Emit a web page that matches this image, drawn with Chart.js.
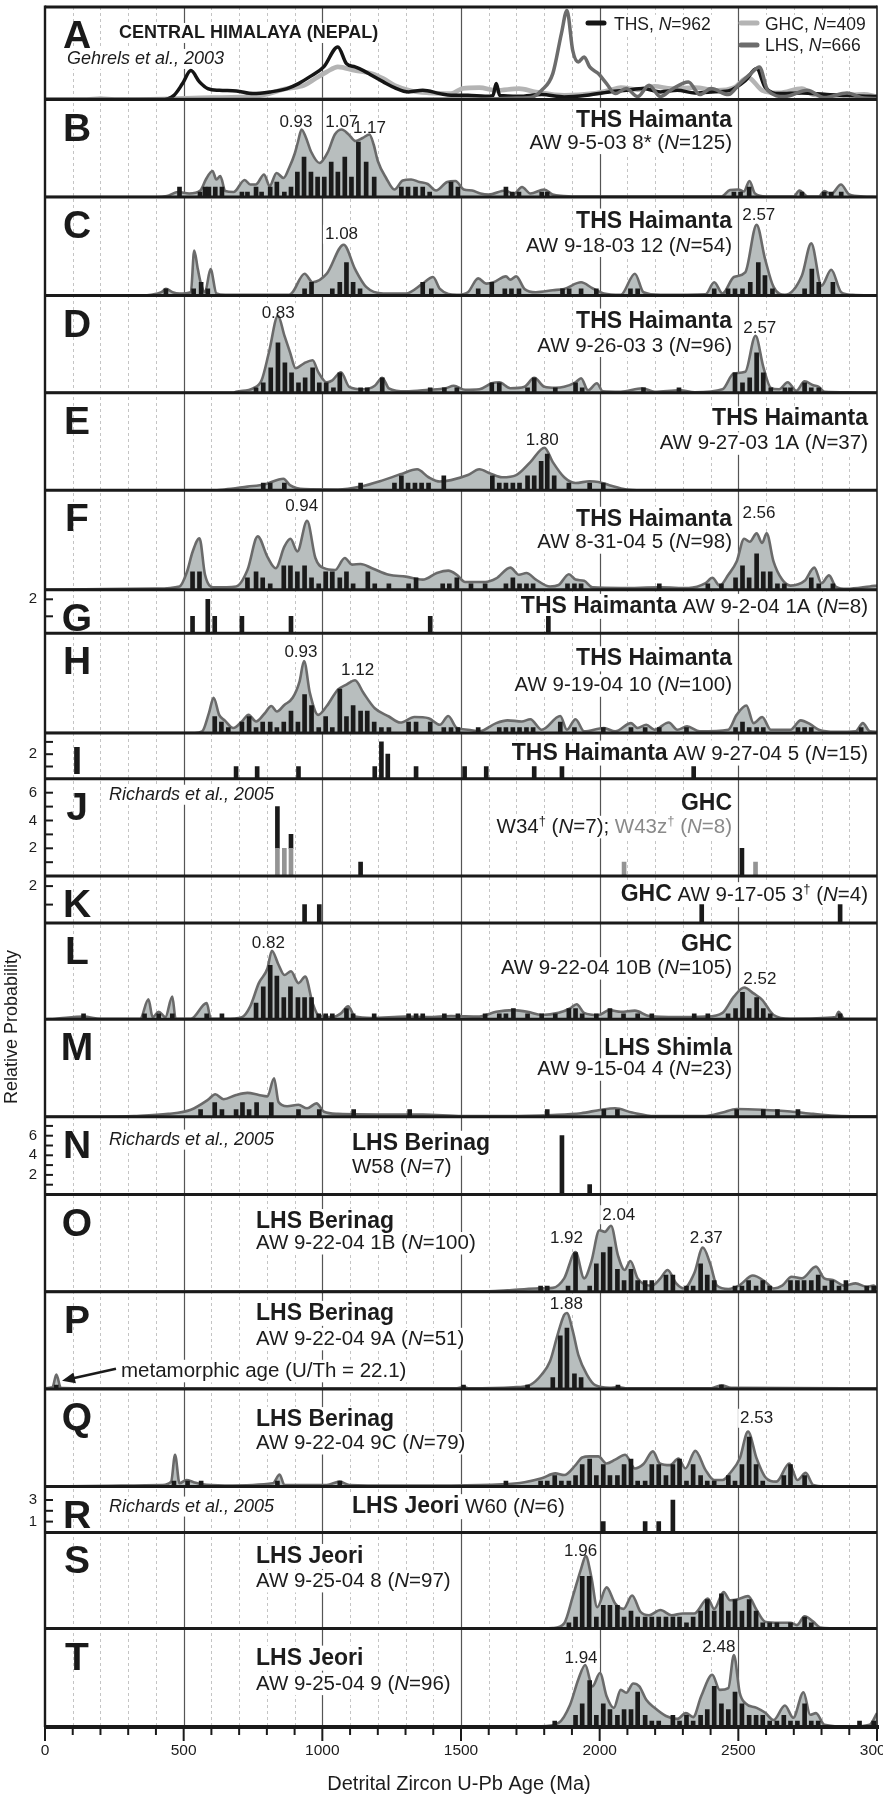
<!DOCTYPE html>
<html>
<head>
<meta charset="utf-8">
<title>Detrital zircon U-Pb age spectra</title>
<script src="https://cdn.jsdelivr.net/npm/chart.js@4.4.1/dist/chart.umd.min.js"></script>
<style>
  html, body { margin: 0; padding: 0; background: #fff; }
  canvas { display: block; }
</style>
</head>
<body>
<canvas id="spectra" width="883" height="1796"></canvas>
<script>
// ------------------------------------------------------------------
// Values: ages in Ma; curves are relative probability (panel units),
// bars are grain counts per 20 Myr bin.
// ------------------------------------------------------------------
const ageTicks = [0, 500, 1000, 1500, 2000, 2500, 3000];

// A: compiled Central Himalaya (Nepal) spectra
const curveTHS = [[0,0],[420,0],[465,4.3],[496,16],[526,29],[557,17.7],[587,11],[628,9.3],[690,8.7],[750,6],[812,7.7],[873,11],[914,16],[954,22.7],[1005,32.7],[1056,52.7],[1087,36],[1118,32.7],[1148,29],[1179,24],[1220,17.7],[1260,12],[1311,7.7],[1362,9.3],[1424,6],[1464,4.3],[1525,4.3],[1587,3.3],[1615,4],[1627,16],[1640,4],[1709,3.3],[1791,5],[1872,2.7],[1954,4.3],[2035,7.7],[2096,9.3],[2158,11],[2219,7.7],[2280,9.3],[2343,6.7],[2402,7.7],[2464,8.7],[2525,19],[2566,31],[2596,12.7],[2647,6],[2729,6.7],[2810,5.3],[2892,4],[2974,3.3],[3000,3]];
const curveGHC = [[0,0],[150,0],[200,1],[250,0],[420,0.5],[600,2],[750,3],[873,11],[934,14.3],[975,21],[1016,27.7],[1056,32.7],[1118,29],[1179,26],[1220,21],[1260,14.3],[1322,8.7],[1383,6.7],[1464,6],[1505,11],[1566,12],[1627,9.3],[1709,11],[1770,7.7],[1872,4.3],[1974,6],[2035,9.3],[2076,12],[2137,10],[2198,13.3],[2259,11],[2343,12],[2423,9.3],[2484,12],[2535,22],[2586,9.3],[2647,6.7],[2729,11],[2770,5],[2851,4],[2953,5.3],[3000,3]];
const curveLHS = [[0,0],[1600,0.5],[1700,1.5],[1750,2],[1791,9.3],[1831,26],[1862,66],[1882,89],[1903,49],[1923,37.7],[1944,42.7],[1964,32.7],[1995,26],[2025,16],[2056,6],[2096,11],[2137,3],[2178,14.3],[2219,3],[2259,10],[2320,17.7],[2361,5],[2402,11],[2464,5],[2505,16],[2545,26],[2576,32.7],[2606,9.3],[2668,3],[2749,9.3],[2810,2],[2892,6.7],[2953,1.5],[3000,1]];

const curveB = [[0,0],[400,0],[440,0.2],[480,1],[520,0.7],[560,1.3],[580,3.5],[604,5.2],[618,3.5],[632,4.2],[650,1.2],[680,1],[720,3.4],[740,2.5],[760,2.5],[790,4.5],[810,2.2],[835,4.8],[860,3.8],[880,5.8],[900,8.6],[912,11],[925,13.5],[940,12],[960,9],[990,6.8],[1020,9],[1045,12.5],[1070,13.5],[1095,12.5],[1120,11.2],[1145,11.8],[1170,12.5],[1185,10.5],[1200,7.2],[1230,3.8],[1260,1.5],[1290,3.3],[1320,3.5],[1350,3],[1380,2.6],[1410,1.3],[1450,3],[1480,3.2],[1510,1.5],[1540,1.3],[1570,0.7],[1600,0.5],[1660,1.3],[1690,0.6],[1720,2],[1750,0.7],[1800,1.5],[1830,0.5],[1870,0.2],[1900,0.1],[2440,0.1],[2470,1.4],[2500,1.5],[2520,1.1],[2540,3.2],[2560,0.7],[2600,0.1],[2700,0.1],[2720,1.3],[2750,0.1],[2790,0.1],[2810,1.2],[2835,0.6],[2870,2.5],[2900,0.5],[2950,0.1],[3000,0]];
const barsB = [[485,2],[559,1],[577,2],[591,2],[614,2],[638,2],[710,1],[730,1],[761,2],[781,1],[812,2],[836,3],[863,1],[887,2],[910,5],[934,8],[959,5],[983,4],[1007,4],[1032,7],[1056,5],[1081,8],[1105,4],[1130,11],[1158,7],[1187,4],[1285,2],[1309,2],[1336,2],[1362,2],[1387,1],[1464,3],[1489,2],[1662,2],[1685,1],[1709,1],[1791,1],[1811,1],[2484,1],[2508,1],[2539,2],[2729,1],[2810,1],[2835,1],[2871,1]];
const peaksB = ['0.93', '1.07', '1.17'];

const curveC = [[0,0],[350,0],[383,0.1],[420,0.5],[436,1],[460,0.5],[485,0.3],[526,0.5],[538,6.8],[551,4],[561,2],[577,0.5],[597,4],[618,0.3],[650,0.1],[880,0.1],[893,0.5],[936,3.3],[965,2],[1016,3.3],[1077,7.7],[1118,4],[1158,1.3],[1220,0.3],[1301,0.3],[1362,1.8],[1399,2.8],[1424,1],[1485,0.1],[1525,0.5],[1562,2.6],[1591,1.8],[1617,2],[1662,2.9],[1678,2.4],[1699,2.9],[1729,1],[1770,0.5],[1831,0.8],[1872,1],[1933,2],[1974,1.1],[2015,0.3],[2076,0.1],[2127,3.3],[2158,0.5],[2219,0.1],[2382,0.2],[2413,2],[2443,0.3],[2484,2.8],[2525,3.5],[2566,10.7],[2596,5.6],[2627,1.3],[2668,0.1],[2729,3],[2763,7.9],[2800,1.5],[2835,3.9],[2871,0.5],[2912,0.1],[3000,0]];
const barsC = [[436,1],[536,1],[563,2],[587,1],[936,1],[961,2],[1036,1],[1063,2],[1087,5],[1111,2],[1136,1],[1362,2],[1393,1],[1562,1],[1611,2],[1658,1],[1682,1],[1709,1],[1866,1],[1890,1],[1933,1],[1988,1],[2111,1],[2137,1],[2413,1],[2463,1],[2488,1],[2515,1],[2543,2],[2572,5],[2596,3],[2623,1],[2739,1],[2765,4],[2790,2],[2841,2]];
const peaksC = ['1.08', '2.57'];

const curveD = [[0,0],[680,0],[689,0.2],[750,0.9],[781,2.5],[808,8.2],[840,15.4],[863,11.5],[883,8.2],[904,4.9],[934,5.9],[965,6.5],[985,4.2],[1016,2.1],[1036,2.5],[1067,4.1],[1097,1.2],[1148,0.7],[1189,1.4],[1216,3],[1240,0.9],[1301,0.3],[1383,0.6],[1444,0.9],[1474,1.4],[1515,0.6],[1566,0.7],[1611,1.9],[1638,2.1],[1678,0.9],[1729,1.2],[1764,3],[1801,1.2],[1841,1],[1872,1.2],[1913,2.1],[1933,2.9],[1958,0.5],[1990,1.9],[2011,0.3],[2076,0.2],[2154,0.9],[2198,0.2],[2290,0.5],[2343,0.1],[2443,0.7],[2484,3.9],[2525,4.2],[2562,11.4],[2590,5.2],[2617,1],[2647,0.7],[2678,2.1],[2709,0.4],[2739,2.3],[2770,1.5],[2790,1.2],[2811,0.2],[2900,0.1],[3000,0]];
const barsD = [[761,1],[787,2],[814,5],[840,10],[865,6],[889,4],[914,2],[938,3],[965,5],[989,2],[1014,2],[1040,1],[1063,4],[1138,1],[1162,1],[1216,3],[1389,1],[1440,1],[1485,1],[1611,2],[1638,2],[1740,1],[1764,3],[1840,1],[1913,2],[1937,1],[2158,1],[2286,1],[2488,4],[2515,2],[2541,3],[2566,8],[2590,4],[2617,1],[2668,1],[2688,1],[2739,2],[2763,1],[2790,1]];
const peaksD = ['0.83', '2.57'];

const curveE = [[0,0],[620,0],[648,0.1],[730,0.5],[791,0.8],[860,1.6],[883,0.7],[934,0.15],[1056,0.1],[1138,0.5],[1220,1.4],[1281,2.2],[1342,2.9],[1383,1.8],[1424,1.2],[1464,1.4],[1525,2.1],[1566,2.9],[1607,2.3],[1648,1.8],[1699,2.1],[1750,3.9],[1801,5.9],[1831,3.9],[1872,1.8],[1913,1],[1964,1.25],[1995,1.15],[2035,0.7],[2096,0.1],[2150,0],[3000,0]];
const barsE = [[787,1],[812,1],[863,1],[1138,1],[1260,1],[1285,2],[1309,1],[1334,1],[1358,1],[1383,1],[1438,2],[1613,2],[1638,1],[1662,1],[1687,1],[1711,1],[1740,2],[1764,2],[1789,4],[1811,5],[1836,2],[1889,1],[1964,1],[2013,1]];
const peaksE = ['1.80'];

const curveF = [[0,0],[400,0.2],[485,0.55],[512,3],[532,6.3],[557,8.6],[577,2.5],[608,0.4],[689,0.55],[730,3.3],[767,8.9],[802,5.5],[832,3.6],[863,7.2],[885,8.5],[910,6.4],[945,11.5],[975,5.3],[1006,3.6],[1046,3.3],[1081,5.3],[1107,4.2],[1138,4.3],[1179,3.6],[1240,2.5],[1301,2.2],[1362,1.7],[1413,2.8],[1454,3.2],[1485,2.5],[1515,1.3],[1587,1.3],[1627,1.9],[1678,3.7],[1709,2.5],[1736,2.8],[1770,1.7],[1821,0.55],[1852,0.8],[1889,2.6],[1913,1.7],[1944,1.5],[1974,0.4],[2076,0.3],[2219,0.4],[2321,0.3],[2382,1.1],[2406,2],[2433,0.7],[2464,2.5],[2494,4.7],[2521,8.5],[2541,8],[2566,9.4],[2586,7.8],[2602,9.4],[2627,4.7],[2658,1.7],[2688,0.7],[2739,1.5],[2774,3.7],[2800,1.1],[2827,2.4],[2851,0.55],[2892,0.15],[2974,0.55],[3000,0.7]];
const barsF = [[532,3],[557,3],[730,2],[761,3],[785,2],[812,1],[861,4],[885,4],[910,3],[936,4],[961,2],[987,1],[1012,3],[1036,3],[1063,2],[1087,3],[1111,1],[1164,3],[1189,1],[1240,1],[1311,1],[1338,2],[1434,1],[1458,1],[1485,2],[1536,1],[1587,1],[1662,1],[1687,2],[1711,1],[1736,1],[1760,1],[1884,1],[1909,1],[1933,1],[2215,1],[2390,1],[2439,1],[2490,2],[2515,4],[2539,2],[2566,6],[2590,3],[2615,3],[2641,1],[2666,1],[2763,2],[2790,1],[2841,1]];
const peaksF = ['0.94', '2.56'];

const barsG = [[532,1],[587,2],[612,1],[710,1],[887,1],[1389,1],[1815,1]];
const tickLabelsG = [2];

const curveH = [[0,0],[540,0],[567,0.3],[591,3.6],[608,6.4],[628,3.3],[648,2.3],[679,0.9],[710,2.1],[734,3.3],[761,2.1],[791,3.5],[816,4.9],[836,3.9],[863,5.1],[893,6.4],[918,9.4],[934,13.1],[955,7.3],[985,3.3],[1016,4.9],[1056,7.9],[1087,8.8],[1118,9.6],[1148,7.3],[1189,4.5],[1240,3],[1281,1.9],[1332,2.9],[1383,2.7],[1424,1.5],[1454,3.1],[1485,0.9],[1525,0.6],[1566,0.3],[1627,1.8],[1668,2.3],[1719,2.1],[1750,2.5],[1791,0.6],[1858,3.1],[1882,0.6],[1913,2.5],[1944,0.3],[2015,0.9],[2056,0.3],[2113,1.8],[2137,0.9],[2168,1.5],[2198,0.6],[2249,1.9],[2280,0.6],[2315,1.2],[2361,0.3],[2464,0.6],[2494,3.3],[2529,5],[2555,1.8],[2586,2.9],[2617,0.6],[2688,0.6],[2725,2.3],[2759,1.6],[2790,0.6],[2851,0.2],[2923,0.3],[2949,1.8],[2974,0.3],[3000,0.2]];
const barsH = [[612,3],[636,2],[661,1],[710,2],[736,3],[761,1],[785,2],[812,2],[836,1],[861,2],[887,4],[912,2],[936,7],[961,5],[987,1],[1012,3],[1036,1],[1063,8],[1087,3],[1111,5],[1138,4],[1162,4],[1187,2],[1213,1],[1240,1],[1311,2],[1338,2],[1389,2],[1438,1],[1464,1],[1489,1],[1562,1],[1638,1],[1662,1],[1687,1],[1711,1],[1736,1],[1760,1],[1858,2],[1909,1],[2013,1],[2113,1],[2164,1],[2215,1],[2313,1],[2490,1],[2515,2],[2539,1],[2566,1],[2590,1],[2715,1],[2739,1],[2763,1],[2943,1]];
const peaksH = ['0.93', '1.12'];

const barsI = [[689,1],[765,1],[914,1],[1189,1],[1213,3],[1236,2],[1338,1],[1513,1],[1591,1],[1764,1],[1864,1],[2339,1]];
const tickLabelsI = [2];

const barsJ_W43z = [[838,2],[863,2],[887,2],[2088,1],[2562,1]];
const barsJ_W34 = [[838,3],[887,1],[1138,1],[2513,2]];
const tickLabelsJ = [2, 4, 6];

const barsK = [[936,1],[989,1],[2368,1],[2867,1]];
const tickLabelsK = [2];

const curveL = [[0,0],[37,0.1],[139,0.5],[200,0.1],[343,0.1],[373,3.7],[388,0.4],[410,1.4],[434,0.4],[459,4.2],[471,0.1],[526,0.1],[583,3],[598,0.1],[649,0.1],[710,0.4],[740,2.4],[771,6.7],[802,9.4],[818,12.7],[842,10.1],[863,8.2],[887,8.9],[914,6.7],[938,7.9],[965,3],[985,0.8],[1036,0.4],[1067,1.1],[1093,2.4],[1118,0.5],[1179,0.25],[1301,0.5],[1383,0.4],[1464,0.6],[1566,0.5],[1627,1.4],[1689,1.7],[1740,1.4],[1791,0.8],[1852,1.2],[1893,2],[1917,2.8],[1944,1.2],[1995,0.8],[2035,1.7],[2076,1.4],[2127,1.6],[2178,0.6],[2280,0.4],[2382,0.5],[2443,1.2],[2484,4.2],[2521,5.9],[2555,4.8],[2586,3.6],[2627,0.8],[2688,0.1],[2851,0.4],[2861,1.4],[2882,0.1],[3000,0.1]];
const barsL = [[139,1],[359,1],[410,1],[459,1],[583,1],[638,1],[761,3],[787,6],[812,10],[836,8],[861,4],[885,6],[912,4],[936,4],[961,4],[987,1],[1012,1],[1036,1],[1087,2],[1111,1],[1187,1],[1311,1],[1338,1],[1362,1],[1440,1],[1489,1],[1587,1],[1638,1],[1662,1],[1689,2],[1740,1],[1791,1],[1840,1],[1889,2],[1913,2],[1937,1],[1988,1],[2037,2],[2086,1],[2137,1],[2188,1],[2341,1],[2390,1],[2463,1],[2490,2],[2515,5],[2539,2],[2566,4],[2590,2],[2615,1],[2867,1]];
const peaksL = ['0.82', '2.52'];

const curveM = [[0,0],[200,0],[322,0.1],[445,0.4],[526,1],[587,2.4],[614,3.2],[644,2.5],[689,3.1],[730,3.4],[771,3.1],[802,2.9],[826,5.5],[842,2.1],[873,1.5],[914,1.7],[945,1.2],[979,1.9],[1006,0.7],[1056,0.4],[1260,0.3],[1362,0.3],[1505,0.1],[1668,0.1],[1831,0.25],[1933,0.5],[2005,1],[2056,1.2],[2117,0.6],[2198,0.1],[2382,0.1],[2443,0.6],[2494,1.1],[2586,1],[2688,0.75],[2770,0.4],[2871,0.1],[3000,0.05]];
const barsM = [[561,1],[612,2],[638,1],[689,1],[712,2],[736,1],[763,2],[816,2],[914,1],[989,1],[1113,1],[1315,1],[1811,1],[2015,1],[2064,1],[2494,1],[2590,1],[2641,1],[2715,1]];

const barsN = [[1864,6],[1964,1]];
const tickLabelsN = [2, 4, 6];

const curveO = [[0,0.05],[1600,0.1],[1668,0.25],[1770,0.6],[1831,0.7],[1872,2.4],[1913,7.1],[1944,2.4],[1970,5.4],[1999,11],[2019,10.7],[2041,11.8],[2066,6.5],[2090,3.9],[2111,5.5],[2137,2.4],[2188,1.1],[2219,2.4],[2245,3.9],[2276,1.5],[2304,0.6],[2341,3.3],[2372,7.9],[2398,5.1],[2423,1.1],[2464,0.5],[2505,1.2],[2552,2.9],[2597,1.8],[2627,0.6],[2658,1.1],[2692,2.7],[2729,2.4],[2780,4.5],[2810,2.4],[2841,2.1],[2882,1.1],[2923,1.5],[2963,0.9],[2988,1.1],[3000,0.6]];
const barsO = [[1787,1],[1811,1],[1886,1],[1913,7],[1964,1],[1988,5],[2013,7],[2037,8],[2064,4],[2088,2],[2113,4],[2137,2],[2164,2],[2188,2],[2239,3],[2264,3],[2313,1],[2337,1],[2364,5],[2388,3],[2413,2],[2488,1],[2513,1],[2537,2],[2564,1],[2588,2],[2613,1],[2688,2],[2713,2],[2737,2],[2763,2],[2788,3],[2812,1],[2837,2],[2863,1],[2888,2],[2963,1],[2988,1]];
const peaksO = ['1.92', '2.04', '2.37'];

const curveP = [[0,0.2],[27,0.45],[41,3.8],[57,0.3],[100,0.2],[1480,0.2],[1509,0.5],[1530,0.2],[1689,0.45],[1750,1.1],[1791,3.8],[1821,7.3],[1848,14.2],[1872,19.5],[1882,20],[1903,15.3],[1923,9],[1954,3.8],[1984,1],[2035,0.3],[2066,0.5],[2100,0.2],[2402,0.2],[2439,1],[2474,0.3],[3000,0.2]];
const barsP = [[41,1],[1509,1],[1740,1],[1831,3],[1858,14],[1882,16],[1909,4],[1933,3],[2066,1],[2439,1]];
const peaksP = ['1.88'];

const curveQ = [[0,0.05],[424,0.3],[455,0.9],[469,5.8],[485,0.6],[510,1.2],[536,0.8],[567,0.4],[649,0.2],[822,0.6],[846,2.2],[863,0.3],[1016,0.3],[1063,0.9],[1097,0.3],[1260,0.2],[1464,0.2],[1648,0.4],[1729,0.8],[1791,1.5],[1840,2.4],[1872,2.1],[1913,3.9],[1937,5.3],[1964,5.5],[1995,5.5],[2025,4.2],[2056,4.9],[2092,5.8],[2127,3.3],[2158,4.1],[2192,6.4],[2217,4.2],[2254,3.9],[2284,5.1],[2309,3.3],[2345,6.5],[2382,3],[2413,1.2],[2443,1.2],[2474,2.7],[2505,5.1],[2535,10],[2566,5.1],[2596,1.8],[2637,0.9],[2684,4.2],[2713,1.2],[2743,2.5],[2770,0.3],[2810,0.05],[3000,0.05]];
const barsQ = [[465,1],[514,1],[563,1],[838,1],[1063,1],[1662,1],[1787,1],[1811,1],[1838,2],[1862,1],[1889,1],[1913,2],[1937,4],[1964,5],[1988,2],[2013,4],[2037,2],[2064,2],[2088,4],[2113,5],[2137,1],[2164,1],[2188,4],[2213,4],[2239,2],[2264,4],[2288,5],[2313,1],[2337,4],[2364,2],[2388,1],[2413,1],[2464,2],[2488,1],[2513,4],[2539,9],[2564,4],[2588,1],[2664,2],[2688,4],[2739,2]];
const peaksQ = ['2.53'];

const barsR = [[2013,1],[2164,1],[2213,1],[2264,3]];
const tickLabelsR = [1, 3];

const curveS = [[0,0.05],[1800,0.05],[1831,0.1],[1872,0.9],[1903,5.5],[1933,10.3],[1950,12.5],[1970,8.9],[1991,3.7],[2025,7.1],[2056,4.3],[2086,3.4],[2117,5.7],[2147,2.9],[2178,2.3],[2219,3.2],[2259,2.3],[2300,2.6],[2341,2.6],[2390,5.2],[2413,3.4],[2447,6.3],[2470,4.9],[2494,5],[2535,5.6],[2566,3.2],[2596,1.2],[2647,1],[2688,1],[2711,0.6],[2739,2.1],[2770,1.2],[2794,0.2],[2830,0.05],[3000,0.05]];
const barsS = [[1889,1],[1913,2],[1937,9],[1962,9],[1988,2],[2013,4],[2037,4],[2064,4],[2088,2],[2113,3],[2137,2],[2164,2],[2188,2],[2213,2],[2239,2],[2264,2],[2288,2],[2313,1],[2337,2],[2364,3],[2388,5],[2413,3],[2439,6],[2464,3],[2488,5],[2513,3],[2539,5],[2564,3],[2588,1],[2613,1],[2639,1],[2688,1],[2739,2],[2763,1]];
const peaksS = ['1.96'];

const curveT = [[0,0.05],[1790,0.1],[1852,0.7],[1893,3.8],[1923,8.2],[1948,10.7],[1974,7],[2001,9.3],[2025,5.3],[2051,3.3],[2076,6.4],[2096,5.9],[2121,7.5],[2143,7],[2168,4.7],[2198,3.3],[2239,1.9],[2280,1.4],[2311,2.4],[2337,1.7],[2366,5.3],[2406,9],[2433,6.4],[2464,6.7],[2484,12.4],[2505,5.9],[2525,4.1],[2566,3.3],[2596,2.5],[2627,1.2],[2668,3.7],[2698,1.6],[2735,6],[2759,2.1],[2780,2.4],[2810,0.4],[2900,0.05],[2974,0.4],[3000,2.4]];
const barsT = [[1838,1],[1913,2],[1937,4],[1964,8],[1988,2],[2013,4],[2037,3],[2064,2],[2088,3],[2113,3],[2137,6],[2164,2],[2188,1],[2213,1],[2264,2],[2288,1],[2313,2],[2337,1],[2364,2],[2388,3],[2413,7],[2439,4],[2464,3],[2488,6],[2513,4],[2539,2],[2564,2],[2588,2],[2613,1],[2639,1],[2664,2],[2688,1],[2713,1],[2739,4],[2763,1],[2788,1],[2937,1],[2988,1]];
const peaksT = ['1.94', '2.48'];

// ------------------------------------------------------------------
// Styling and layout
// ------------------------------------------------------------------
const FF = '"Liberation Sans", Arial, Helvetica, sans-serif';
const INK = '#1c1c1c';
const GREY_TXT = '#8a8a8a';
const FILL = '#b8bebe';
const OUTLINE = '#6a6a6a';
const BAR = '#1a1a1a';
const BAR_GREY = '#949494';

const STY = {
  b:    { font: 'bold 23px ' + FF, size: 23 },
  r:    { font: '20.5px ' + FF, size: 20.5 },
  i:    { font: 'italic 20.5px ' + FF, size: 20.5 },
  sup:  { font: '13px ' + FF, size: 13, rise: 8 },
  rg:   { font: '20.5px ' + FF, size: 20.5, color: GREY_TXT },
  ig:   { font: 'italic 20.5px ' + FF, size: 20.5, color: GREY_TXT },
  supg: { font: '13px ' + FF, size: 13, rise: 8, color: GREY_TXT },
  cite: { font: 'italic 18px ' + FF, size: 18 },
  head: { font: 'bold 18px ' + FF, size: 18 },
  leg:  { font: '17.5px ' + FF, size: 17.5 },
  legi: { font: 'italic 17.5px ' + FF, size: 17.5 },
  pk:   { font: '17px ' + FF, size: 17 }
};

const RX = 732, RX2 = 868, LX = 256, LX2 = 352, CITE_X = 109;

function sample(id, n, dagger) {
  const s = [[id, 'r']];
  if (dagger) s.push(['\u2020', 'sup']);
  s.push([' (', 'r'], ['N', 'i'], ['=' + n + ')', 'r']);
  return s;
}
const bold = t => [[t, 'b']];
const cite = [['Richards et al., 2005', 'cite']];

const panels = [
  { key: 'A', h: 92.6, unit: 1,
    lines: [
      { data: curveGHC, color: '#b4b4b4', width: 4.6, order: 5 },
      { data: curveTHS, color: '#151515', width: 3.5, order: 4 },
      { data: curveLHS, color: '#6c6c6c', width: 3.5, order: 3 }
    ] },
  { key: 'B', h: 97.4, unit: 5, curve: curveB, bars: barsB, peaks: peaksB, peakPos: [[-7, 27], [0, 27], [0, 33]],
    texts: [{ s: bold('THS Haimanta'), x: RX, a: 'right', dy: 27 }, { s: sample('AW 9-5-03 8*', 125), x: RX, a: 'right', dy: 49 }] },
  { key: 'C', h: 98.5, unit: 6.6, curve: curveC, bars: barsC, peaks: peaksC, peakPos: [[-3, 42], [1, 22.5]],
    texts: [{ s: bold('THS Haimanta'), x: RX, a: 'right', dy: 30.5 }, { s: sample('AW 9-18-03 12', 54), x: RX, a: 'right', dy: 54.5 }] },
  { key: 'D', h: 97.3, unit: 5, curve: curveD, bars: barsD, peaks: peaksD, peakPos: [[3, 22], [2, 37]],
    texts: [{ s: bold('THS Haimanta'), x: RX, a: 'right', dy: 32 }, { s: sample('AW 9-26-03 3', 96), x: RX, a: 'right', dy: 56 }] },
  { key: 'E', h: 97.4, unit: 7.2, curve: curveE, bars: barsE, peaks: peaksE, peakPos: [[-2, 52]],
    texts: [{ s: bold('THS Haimanta'), x: RX2, a: 'right', dy: 32.5 }, { s: sample('AW 9-27-03 1A', 37), x: RX2, a: 'right', dy: 56.5 }] },
  { key: 'F', h: 99.6, unit: 6, curve: curveF, bars: barsF, peaks: peaksF, peakPos: [[-4, 21], [4, 28]],
    texts: [{ s: bold('THS Haimanta'), x: RX, a: 'right', dy: 35.5 }, { s: sample('AW 8-31-04 5', 98), x: RX, a: 'right', dy: 58 }] },
  { key: 'G', h: 43.5, unit: 17, bars: barsG, ticks: tickLabelsG,
    texts: [{ s: bold('THS Haimanta').concat(sample(' AW 9-2-04 1A', 8)), x: RX2, a: 'right', dy: 23 }] },
  { key: 'H', h: 99.7, unit: 5.5, curve: curveH, bars: barsH, peaks: peaksH, peakPos: [[-2, 24], [2, 42]],
    texts: [{ s: bold('THS Haimanta'), x: RX, a: 'right', dy: 32 }, { s: sample('AW 9-19-04 10', 100), x: RX, a: 'right', dy: 58 }] },
  { key: 'I', h: 45.8, unit: 12.3, bars: barsI, ticks: tickLabelsI,
    texts: [{ s: bold('THS Haimanta').concat(sample(' AW 9-27-04 5', 15)), x: RX2, a: 'right', dy: 26.5 }] },
  { key: 'J', h: 97.3, unit: 13.9, stackedBars: [{ data: barsJ_W43z, color: BAR_GREY }, { data: barsJ_W34, color: BAR }], ticks: tickLabelsJ,
    texts: [
      { s: cite, x: CITE_X, a: 'left', dy: 21 },
      { s: bold('GHC'), x: RX, a: 'right', dy: 31 },
      { s: [['W34', 'r'], ['\u2020', 'sup'], [' (', 'r'], ['N', 'i'], ['=7); ', 'r'], ['W43z', 'rg'], ['\u2020', 'supg'], [' (', 'rg'], ['N', 'ig'], ['=8)', 'rg']], x: RX, a: 'right', dy: 54 }
    ] },
  { key: 'K', h: 47, unit: 18.5, bars: barsK, ticks: tickLabelsK,
    texts: [{ s: bold('GHC').concat(sample(' AW 9-17-05 3', 4, true)), x: RX2, a: 'right', dy: 25 }] },
  { key: 'L', h: 96.2, unit: 5.4, curve: curveL, bars: barsL, peaks: peaksL, peakPos: [[-4, 25], [16, 61]],
    texts: [{ s: bold('GHC'), x: RX, a: 'right', dy: 28 }, { s: sample('AW 9-22-04 10B', 105), x: RX, a: 'right', dy: 51 }] },
  { key: 'M', h: 97.4, unit: 7, curve: curveM, bars: barsM,
    texts: [{ s: bold('LHS Shimla'), x: RX, a: 'right', dy: 36 }, { s: sample('AW 9-15-04 4', 23), x: RX, a: 'right', dy: 56 }] },
  { key: 'N', h: 77.8, unit: 9.8, bars: barsN, ticks: tickLabelsN,
    texts: [
      { s: cite, x: CITE_X, a: 'left', dy: 28 },
      { s: bold('LHS Berinag'), x: LX2, a: 'left', dy: 33 },
      { s: sample('W58', 7), x: LX2, a: 'left', dy: 56 }
    ] },
  { key: 'O', h: 97.3, unit: 5.6, curve: curveO, bars: barsO, peaks: peaksO, peakPos: [[-11, 48], [8, 25], [4, 48]],
    texts: [{ s: bold('LHS Berinag'), x: LX, a: 'left', dy: 33.5 }, { s: sample('AW 9-22-04 1B', 100), x: LX, a: 'left', dy: 54.5 }] },
  { key: 'P', h: 97.2, unit: 3.8, curve: curveP, bars: barsP, peaks: peaksP, peakPos: [[0, 17]],
    texts: [
      { s: bold('LHS Berinag'), x: LX, a: 'left', dy: 28 },
      { s: sample('AW 9-22-04 9A', 51), x: LX, a: 'left', dy: 53 },
      { s: [['metamorphic age (U/Th = 22.1)', 'r']], x: 121, a: 'left', dy: 85 }
    ] },
  { key: 'Q', h: 97.6, unit: 5.5, curve: curveQ, bars: barsQ, peaks: peaksQ, peakPos: [[10, 34]],
    texts: [{ s: bold('LHS Berinag'), x: LX, a: 'left', dy: 37 }, { s: sample('AW 9-22-04 9C', 79), x: LX, a: 'left', dy: 60 }] },
  { key: 'R', h: 45.8, unit: 10.8, bars: barsR, ticks: tickLabelsR,
    texts: [
      { s: cite, x: CITE_X, a: 'left', dy: 25 },
      { s: bold('LHS Jeori').concat(sample(' W60', 6)), x: LX2, a: 'left', dy: 26.5 }
    ] },
  { key: 'S', h: 96.2, unit: 5.8, curve: curveS, bars: barsS, peaks: peaksS, peakPos: [[-8, 23.5]],
    texts: [{ s: bold('LHS Jeori'), x: LX, a: 'left', dy: 30.5 }, { s: sample('AW 9-25-04 8', 97), x: LX, a: 'left', dy: 54.5 }] },
  { key: 'T', h: 98.4, unit: 5.8, curve: curveT, bars: barsT, peaks: peaksT, peakPos: [[-2, 34], [-14, 23]],
    texts: [{ s: bold('LHS Jeori'), x: LX, a: 'left', dy: 36 }, { s: sample('AW 9-25-04 9', 96), x: LX, a: 'left', dy: 61 }] }
];

const pts = arr => arr.map(([x, y]) => ({ x, y }));

// ------------------------------------------------------------------
// Datasets and stacked y scales (one per panel)
// ------------------------------------------------------------------
const datasets = [];
const scales = {
  x: {
    type: 'linear', position: 'bottom', min: 0, max: 3000, offset: false,
    grid: { display: false, offset: false, drawTicks: false }, border: { display: false },
    ticks: { display: false, stepSize: 500 },
    afterFit(s) { s.height = 69; }
  }
};

panels.forEach((p, k) => {
  const yId = 'y' + p.key;
  p.yId = yId;
  scales[yId] = {
    type: 'linear', position: 'left', stack: 'panels', stackWeight: p.h, weight: panels.length - k,
    min: 0, max: p.h / p.unit, offset: false, stacked: !!p.stackedBars,
    grid: { display: false, drawTicks: false }, border: { display: false },
    ticks: { display: false },
    afterFit(s) { s.width = 45; }
  };
  if (p.lines) {
    p.lines.forEach(l => datasets.push({
      type: 'line', data: pts(l.data), yAxisID: yId, xAxisID: 'x',
      borderColor: l.color, borderWidth: l.width, fill: false, pointRadius: 0,
      cubicInterpolationMode: 'monotone', borderJoinStyle: 'round', order: l.order
    }));
  }
  if (p.curve) {
    datasets.push({
      type: 'line', data: pts(p.curve), yAxisID: yId, xAxisID: 'x',
      borderColor: OUTLINE, borderWidth: 2.6, backgroundColor: FILL, fill: 'origin',
      pointRadius: 0, cubicInterpolationMode: 'monotone', borderJoinStyle: 'round', order: 2
    });
  }
  if (p.bars) {
    datasets.push({
      type: 'bar', data: pts(p.bars), yAxisID: yId, xAxisID: 'x',
      backgroundColor: BAR, barThickness: 4, grouped: false, order: 1
    });
  }
  if (p.stackedBars) {
    p.stackedBars.forEach(sb => datasets.push({
      type: 'bar', data: pts(sb.data), yAxisID: yId, xAxisID: 'x', stack: 'J',
      backgroundColor: sb.color, barThickness: 4, grouped: false, order: 1
    }));
  }
});

// ------------------------------------------------------------------
// Text helpers
// ------------------------------------------------------------------
function layoutRich(ctx, segs, x, y, align) {
  let w = 0, size = 0;
  const parts = segs.map(([t, st]) => {
    const f = STY[st];
    ctx.font = f.font;
    const ww = ctx.measureText(t).width;
    w += ww;
    if (!f.rise) size = Math.max(size, f.size);
    return { t, f, ww };
  });
  const x0 = align === 'right' ? x - w : align === 'center' ? x - w / 2 : x;
  return { x0, y, w, parts, top: y - size * 0.78, bottom: y + size * 0.22 };
}
function drawRich(ctx, L) {
  let cx = L.x0;
  ctx.textAlign = 'left';
  ctx.textBaseline = 'alphabetic';
  for (const p of L.parts) {
    ctx.font = p.f.font;
    ctx.fillStyle = p.f.color || INK;
    ctx.fillText(p.t, cx, L.y - (p.f.rise || 0));
    cx += p.ww;
  }
}

function collectTexts(chart) {
  const ctx = chart.ctx, xs = chart.scales.x;
  const out = [];
  panels.forEach(p => {
    const top = chart.scales[p.yId].top;
    (p.texts || []).forEach(t => out.push(layoutRich(ctx, t.s, t.x, top + t.dy, t.a)));
    (p.peaks || []).forEach((lbl, i) => {
      const [dx, dy] = p.peakPos[i];
      const px = xs.getPixelForValue(parseFloat(lbl) * 1000) + dx;
      out.push(layoutRich(ctx, [[lbl, 'pk']], px, top + dy, 'center'));
    });
  });
  const topA = chart.scales.yA.top;
  out.push(layoutRich(ctx, [['CENTRAL HIMALAYA (NEPAL)', 'head']], 119, topA + 31, 'left'));
  out.push(layoutRich(ctx, [['Gehrels et al., 2003', 'cite']], 67, topA + 57, 'left'));
  out.push(layoutRich(ctx, [['THS, ', 'leg'], ['N', 'legi'], ['=962', 'leg']], 614, topA + 22.5, 'left'));
  out.push(layoutRich(ctx, [['GHC, ', 'leg'], ['N', 'legi'], ['=409', 'leg']], 765, topA + 22.5, 'left'));
  out.push(layoutRich(ctx, [['LHS, ', 'leg'], ['N', 'legi'], ['=666', 'leg']], 765, topA + 44, 'left'));
  return out;
}

// ------------------------------------------------------------------
// Frame, grid, labels
// ------------------------------------------------------------------
const decor = {
  id: 'decor',
  beforeDatasetsDraw(chart) {
    const { ctx, chartArea: ca } = chart;
    const xs = chart.scales.x;
    ctx.save();
    ctx.lineWidth = 1;
    ctx.strokeStyle = '#c4c4c4';
    ctx.setLineDash([3, 3]);
    for (let v = 100; v < 3000; v += 100) {
      if (v % 500 === 0) continue;
      const px = Math.round(xs.getPixelForValue(v)) + 0.5;
      ctx.beginPath(); ctx.moveTo(px, ca.top); ctx.lineTo(px, ca.bottom); ctx.stroke();
    }
    ctx.setLineDash([]);
    ctx.strokeStyle = '#555';
    ctx.lineWidth = 1.2;
    ageTicks.slice(1, -1).forEach(v => {
      const px = Math.round(xs.getPixelForValue(v)) + 0.5;
      ctx.beginPath(); ctx.moveTo(px, ca.top); ctx.lineTo(px, ca.bottom); ctx.stroke();
    });
    // white backing behind lettering
    ctx.fillStyle = '#fff';
    collectTexts(chart).forEach(L => ctx.fillRect(L.x0 - 2, L.top - 1, L.w + 4, L.bottom - L.top + 2));
    ctx.restore();
  },
  afterDatasetsDraw(chart) {
    const { ctx, chartArea: ca } = chart;
    const xs = chart.scales.x;
    ctx.save();
    // panel separators
    ctx.strokeStyle = '#1a1a1a';
    ctx.lineWidth = 3;
    panels.forEach(p => {
      const s = chart.scales[p.yId];
      ctx.beginPath(); ctx.moveTo(ca.left, s.top); ctx.lineTo(ca.right, s.top); ctx.stroke();
    });
    ctx.lineWidth = 4;
    ctx.beginPath(); ctx.moveTo(ca.left - 1, ca.bottom); ctx.lineTo(ca.right + 2, ca.bottom); ctx.stroke();
    ctx.lineWidth = 2.4;
    ctx.beginPath(); ctx.moveTo(ca.left, ca.top - 1.5); ctx.lineTo(ca.left, ca.bottom); ctx.stroke();
    ctx.lineWidth = 1.6;
    ctx.beginPath(); ctx.moveTo(ca.right, ca.top - 1.5); ctx.lineTo(ca.right, ca.bottom); ctx.stroke();

    // bottom axis ticks and labels
    ctx.lineWidth = 2;
    for (let v = 0; v <= 3000; v += 100) {
      const px = xs.getPixelForValue(v);
      const len = v % 500 === 0 ? 14 : 8;
      ctx.beginPath(); ctx.moveTo(px, ca.bottom); ctx.lineTo(px, ca.bottom + len); ctx.stroke();
    }
    ctx.fillStyle = INK;
    ctx.font = '15.5px ' + FF;
    ctx.textAlign = 'center';
    ctx.textBaseline = 'alphabetic';
    ageTicks.forEach(v => ctx.fillText(String(v), xs.getPixelForValue(v), ca.bottom + 28));
    ctx.font = '20px ' + FF;
    ctx.fillText('Detrital Zircon U-Pb Age (Ma)', 459, ca.bottom + 63);

    // vertical axis title
    ctx.save();
    ctx.translate(17, 1027);
    ctx.rotate(-Math.PI / 2);
    ctx.font = '18px ' + FF;
    ctx.fillText('Relative Probability', 0, 0);
    ctx.restore();

    // count ticks on the narrow panels
    panels.forEach(p => {
      if (!p.ticks) return;
      const s = chart.scales[p.yId];
      ctx.strokeStyle = '#1a1a1a';
      ctx.lineWidth = 2;
      for (let v = 1; v < p.h / p.unit - 0.3; v++) {
        const py = s.getPixelForValue(v);
        ctx.beginPath(); ctx.moveTo(ca.left, py); ctx.lineTo(ca.left + 8, py); ctx.stroke();
      }
      ctx.font = '15px ' + FF;
      ctx.textAlign = 'right';
      ctx.textBaseline = 'middle';
      ctx.fillStyle = INK;
      p.ticks.forEach(v => ctx.fillText(String(v), 37, s.getPixelForValue(v)));
    });

    // panel letters
    ctx.font = 'bold 39px ' + FF;
    ctx.textAlign = 'center';
    ctx.textBaseline = 'alphabetic';
    ctx.fillStyle = '#1a1a1a';
    panels.forEach(p => ctx.fillText(p.key, 77, chart.scales[p.yId].top + 41));

    // lettering
    collectTexts(chart).forEach(L => drawRich(ctx, L));

    // legend swatches
    const topA = chart.scales.yA.top;
    ctx.lineCap = 'round';
    ctx.lineWidth = 5;
    [[586, 16, '#151515'], [739, 16, '#b4b4b4'], [739, 38, '#6c6c6c']].forEach(([x, dy, c]) => {
      ctx.strokeStyle = c;
      ctx.beginPath(); ctx.moveTo(x + 2, topA + dy); ctx.lineTo(x + 18, topA + dy); ctx.stroke();
    });

    // arrow to the metamorphic-age peak in panel P
    const topP = chart.scales.yP.top;
    const tipX = 62, tipY = topP + 89, tailX = 116, tailY = topP + 77;
    const ang = Math.atan2(tipY - tailY, tipX - tailX);
    ctx.strokeStyle = '#1a1a1a';
    ctx.fillStyle = '#1a1a1a';
    ctx.lineCap = 'butt';
    ctx.lineWidth = 2.6;
    ctx.beginPath(); ctx.moveTo(tailX, tailY); ctx.lineTo(tipX - 8 * Math.cos(ang), tipY - 8 * Math.sin(ang)); ctx.stroke();
    ctx.beginPath();
    ctx.moveTo(tipX, tipY);
    ctx.lineTo(tipX - 13 * Math.cos(ang) + 5.5 * Math.sin(ang), tipY - 13 * Math.sin(ang) - 5.5 * Math.cos(ang));
    ctx.lineTo(tipX - 13 * Math.cos(ang) - 5.5 * Math.sin(ang), tipY - 13 * Math.sin(ang) + 5.5 * Math.cos(ang));
    ctx.closePath(); ctx.fill();
    ctx.restore();
  }
};

new Chart(document.getElementById('spectra'), {
  type: 'bar',
  data: { datasets },
  options: {
    responsive: false,
    animation: false,
    devicePixelRatio: 1,
    events: [],
    layout: { padding: { top: 7, left: 0, right: 6, bottom: 0 } },
    scales,
    plugins: { legend: { display: false }, tooltip: { enabled: false } }
  },
  plugins: [decor]
});
</script>
</body>
</html>
